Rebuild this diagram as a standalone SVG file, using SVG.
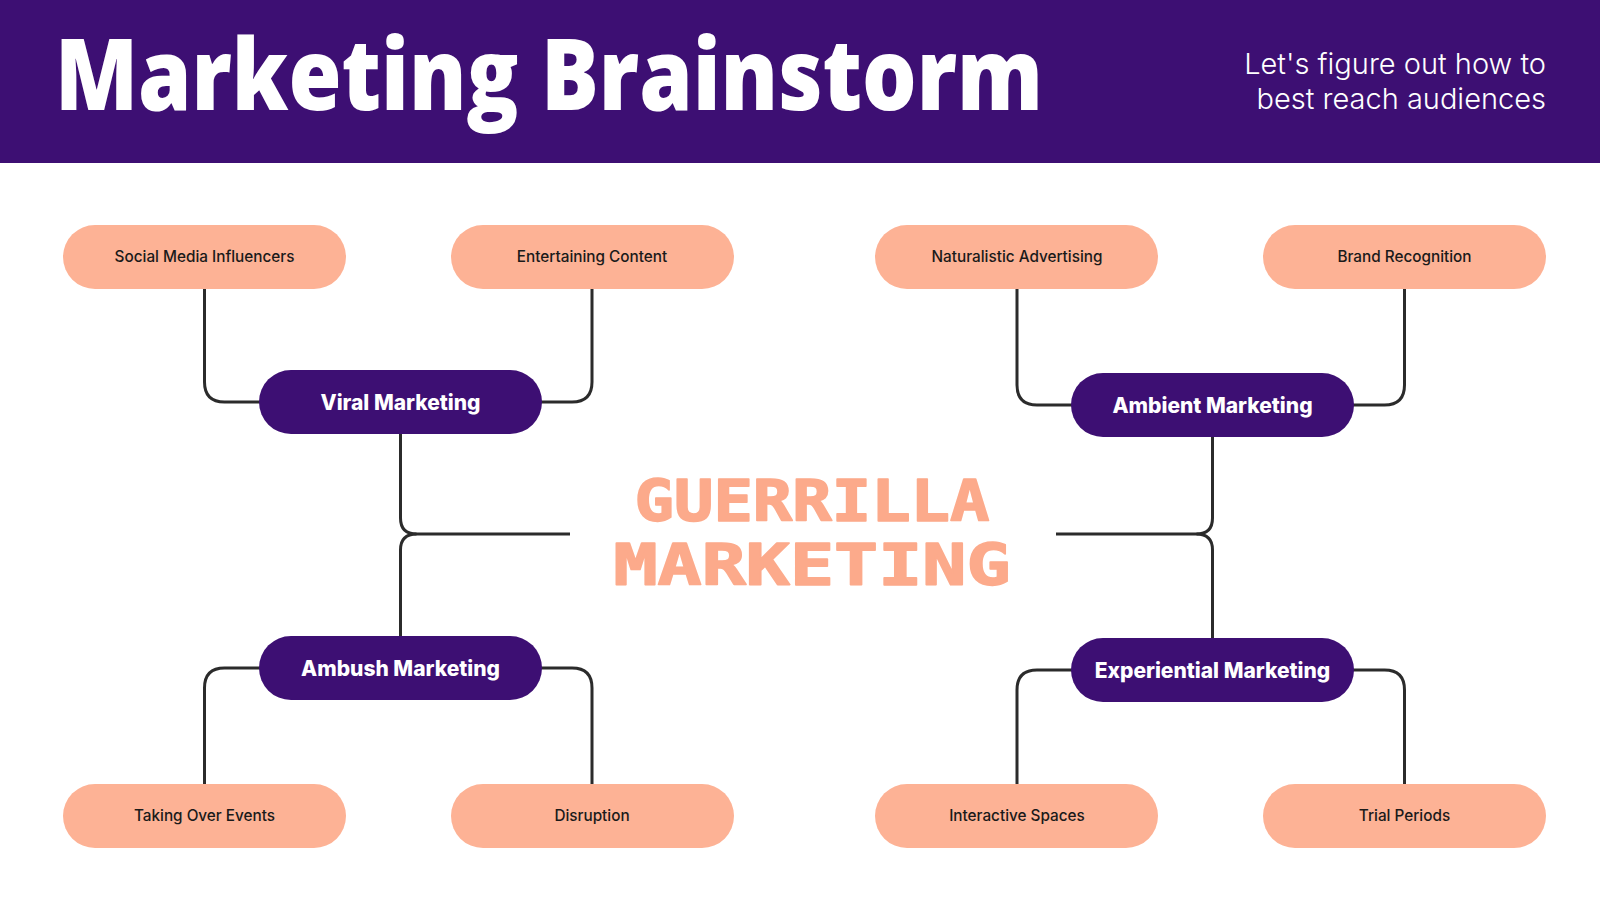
<svg xmlns="http://www.w3.org/2000/svg" width="1600" height="900" viewBox="0 0 1600 900">
<style>
.leaf rect{fill:#fdb295}
.leaf text{font-family:Inter,"Liberation Sans",sans-serif;font-size:15.3px;font-weight:500;fill:#1a1a1a;text-anchor:middle}
.mid rect{fill:#3d0f73}
.mid text{font-family:Inter,"Liberation Sans",sans-serif;font-size:21px;font-weight:800;fill:#ffffff;text-anchor:middle}
.conn path{fill:none;stroke:#2b2b2b;stroke-width:3}
.big{font-family:"DejaVu Sans Mono","Liberation Mono",monospace;font-weight:700;font-size:57px;fill:#fcaa8b;stroke:#fcaa8b;stroke-width:1.6;stroke-linejoin:round;text-anchor:middle}
</style>
<rect x="0" y="0" width="1600" height="900" fill="#ffffff"/>
<g id="header">
<rect x="0" y="0" width="1600" height="163" fill="#3d0f73"/>
<text x="55" y="110" font-family="'Open Sans','Noto Sans',sans-serif" font-weight="800" font-size="100" fill="#ffffff" textLength="988" lengthAdjust="spacingAndGlyphs">Marketing Brainstorm</text>
<text font-family="Inter,'Liberation Sans',sans-serif" font-size="29" font-weight="300" fill="#ffffff" text-anchor="end"><tspan x="1546" y="74">Let's figure out how to</tspan><tspan x="1546" y="109">best reach audiences</tspan></text>
</g>
<g id="connectors" class="conn">
<path d="M204.5,289 V382 Q204.5,402 224.5,402 H260"/>
<path d="M592,289 V382 Q592,402 572,402 H541"/>
<path d="M1017,289 V385 Q1017,405 1037,405 H1072"/>
<path d="M1404.5,289 V385 Q1404.5,405 1384.5,405 H1353"/>
<path d="M400.5,434 V518 Q400.5,534 416.5,534 H570"/>
<path d="M400.5,636 V550 Q400.5,534 416.5,534"/>
<path d="M1212.5,437 V518 Q1212.5,534 1196.5,534 H1056"/>
<path d="M1212.5,638 V550 Q1212.5,534 1196.5,534"/>
<path d="M260,668 H224.5 Q204.5,668 204.5,688 V784"/>
<path d="M541,668 H572 Q592,668 592,688 V784"/>
<path d="M1072,670 H1037 Q1017,670 1017,690 V784"/>
<path d="M1353,670 H1384.5 Q1404.5,670 1404.5,690 V784"/>
</g>
<g id="center">
<text class="big" x="812" y="521" textLength="355" lengthAdjust="spacingAndGlyphs">GUERRILLA</text>
<text class="big" x="812" y="585" textLength="397" lengthAdjust="spacingAndGlyphs">MARKETING</text>
</g>
<g id="viral" class="mid"><rect x="259" y="370" width="283" height="64" rx="32"/><text x="400.5" y="409.5">Viral Marketing</text></g>
<g id="ambient" class="mid"><rect x="1071" y="373" width="283" height="64" rx="32"/><text x="1212.5" y="412.5">Ambient Marketing</text></g>
<g id="ambush" class="mid"><rect x="259" y="636" width="283" height="64" rx="32"/><text x="400.5" y="675.5">Ambush Marketing</text></g>
<g id="experiential" class="mid"><rect x="1071" y="638" width="283" height="64" rx="32"/><text x="1212.5" y="677.5">Experiential Marketing</text></g>
<g id="social" class="leaf"><rect x="63" y="225" width="283" height="64" rx="32"/><text x="204.5" y="262">Social Media Influencers</text></g>
<g id="entertaining" class="leaf"><rect x="451" y="225" width="283" height="64" rx="32"/><text x="592" y="262">Entertaining Content</text></g>
<g id="naturalistic" class="leaf"><rect x="875" y="225" width="283" height="64" rx="32"/><text x="1017" y="262">Naturalistic Advertising</text></g>
<g id="brand" class="leaf"><rect x="1263" y="225" width="283" height="64" rx="32"/><text x="1404.5" y="262">Brand Recognition</text></g>
<g id="taking" class="leaf"><rect x="63" y="784" width="283" height="64" rx="32"/><text x="204.5" y="821">Taking Over Events</text></g>
<g id="disruption" class="leaf"><rect x="451" y="784" width="283" height="64" rx="32"/><text x="592" y="821">Disruption</text></g>
<g id="interactive" class="leaf"><rect x="875" y="784" width="283" height="64" rx="32"/><text x="1017" y="821">Interactive Spaces</text></g>
<g id="trial" class="leaf"><rect x="1263" y="784" width="283" height="64" rx="32"/><text x="1404.5" y="821">Trial Periods</text></g>
</svg>
